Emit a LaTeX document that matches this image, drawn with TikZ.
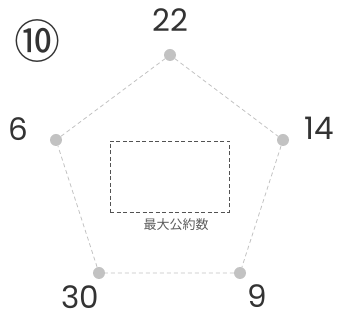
\documentclass[tikz,border=0pt]{standalone}
\usepackage{fontspec}
\setmainfont{Poppins}
\newfontfamily\cjk{Noto Sans CJK JP}
\definecolor{dotgray}{HTML}{C2C2C2}
\definecolor{ink}{HTML}{333333}

\begin{document}
\begin{tikzpicture}[x=1pt,y=-1pt,
  dot/.style={circle,fill=dotgray,inner sep=0pt,minimum size=12pt},
  edge/.style={draw=dotgray,line width=.8pt,dash pattern=on 4pt off 3pt},
  num/.style={text=ink,inner sep=0pt,font=\fontsize{31}{31}\selectfont}]
\useasboundingbox (0,0) rectangle (354,320);
\node[text=ink,font=\cjk\fontsize{46}{46}\selectfont] (mark) at (38,41){⑩};
% vertices
\node[dot] (t) at (170,55){};\node[dot] (r) at (283,140){};\node[dot] (br) at (240,273){};
\node[dot] (bl) at (99,273){};\node[dot] (l) at (56,140){};
\draw[edge] (t)--(r)--(br)--(bl)--(l)--(t);
% numbers
\node[num] (nt) at (170,20){22};\node[num] (nr) at (319,128){14};\node[num] (nbr) at (257,296){9};
\node[num] (nbl) at (80,297){30};\node[num] (nl) at (18,129){6};
% answer box
\node[draw=ink!85,line width=.8pt,dash pattern=on 4pt off 2.5pt,minimum width=119pt,minimum height=71pt,inner sep=0pt] (box) at (169.5,176.5){};
\node[text=ink!80,font=\cjk\fontsize{13}{13}\selectfont] (gcd) at (176,225){最大公約数};
\end{tikzpicture}
\end{document}
